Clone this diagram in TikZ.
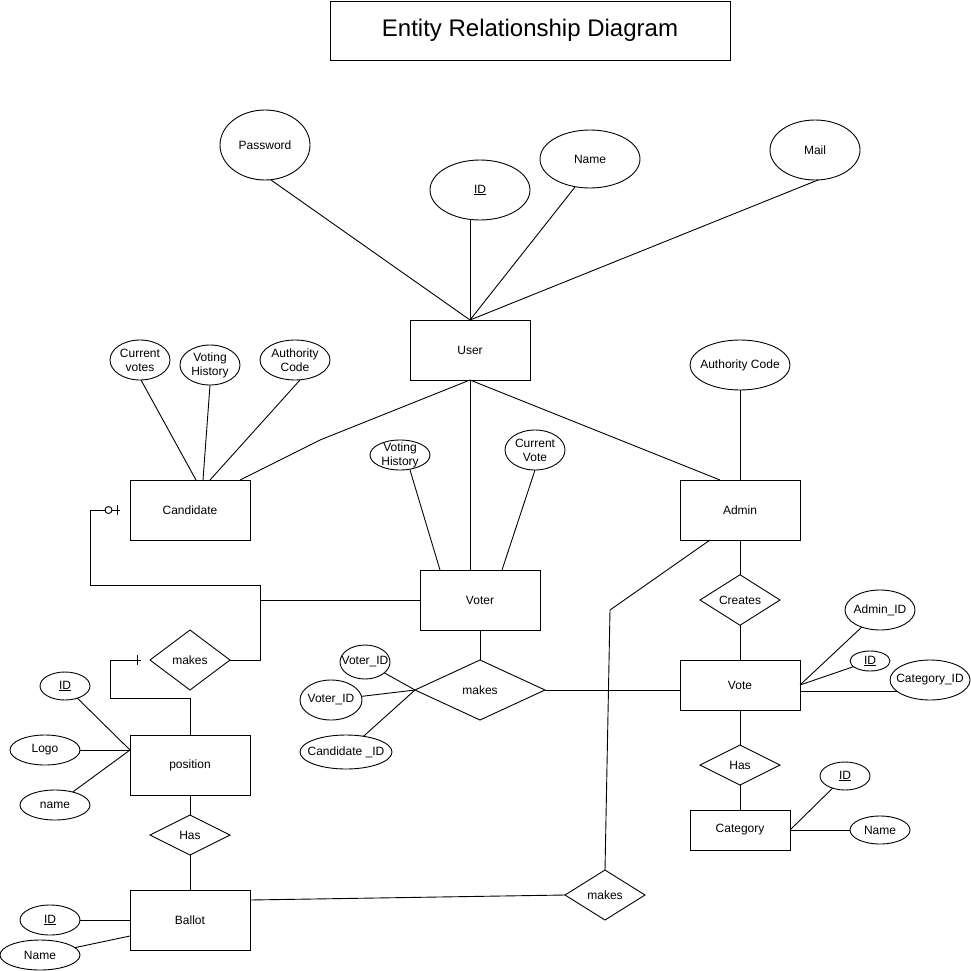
\documentclass[tikz,border=0pt]{standalone}
\usepackage{fontspec}
\setmainfont{Liberation Sans}
\usetikzlibrary{shapes.geometric}
\begin{document}
\begin{tikzpicture}[x=1pt,y=-1pt,
  every node/.style={font=\fontsize{12}{14}\selectfont, align=center, inner sep=0pt, outer sep=0pt},
  every path/.style={line width=0.9pt},
  ent/.style 2 args={draw, rectangle, minimum width=#1, minimum height=#2},
  attr/.style n args={3}{draw, ellipse, minimum width=#1, minimum height=#2, label={center:{#3}}},
  rel/.style 2 args={draw, diamond, minimum width=#1, minimum height=#2},
  titlebox/.style={draw, rectangle, minimum width=400pt, minimum height=59pt, font=\fontsize{24}{27}\selectfont}]
\useasboundingbox (0,0) rectangle (971,971);

% title
\node[titlebox] (title) at (530,30.5) {Entity Relationship Diagram};

% User and attributes
\node[attr={90pt}{70pt}{Password}] (pw) at (265,145) {};
\node[attr={100pt}{60pt}{\underline{ID}}] (uid) at (480,190) {};
\node[attr={100pt}{58pt}{Name}] (uname) at (590,159) {};
\node[attr={90pt}{60pt}{Mail}] (mail) at (815,150) {};
\node[ent={120pt}{60pt}] (user) at (470,350) {User};

\draw ([xshift=6pt]pw.south) -- (user.north);
\draw (uid.south -| user.north) -- (user.north);
\draw ([xshift=-15pt,yshift=1pt]uname.south) -- (user.north);
\draw ([xshift=3pt]mail.south) -- (user.north);

% Candidate
\node[attr={60pt}{40pt}{Current\\votes}] (cv) at (140,360) {};
\node[attr={60pt}{40pt}{Voting\\History}] (cvh) at (210,365) {};
\node[attr={70pt}{40pt}{Authority\\Code}] (cac) at (295,360) {};
\node[ent={120pt}{60pt}] (cand) at (190,510) {Candidate};

\draw ([xshift=1pt]cv.south) -- ([xshift=6pt]cand.north);
\draw (cvh.south) -- ([xshift=13pt]cand.north);
\draw ([xshift=5pt]cac.south) -- ([xshift=20pt]cand.north);
\coordinate (w1) at (320,440);
\draw (user.south) -- (w1) -- ([xshift=50pt]cand.north);

% Voter
\node[attr={60pt}{30pt}{Voting\\History}] (vvh) at (400,455) {};
\node[attr={60pt}{40pt}{Current\\Vote}] (vcv) at (535,450) {};
\node[ent={120pt}{60pt}] (voter) at (480,600) {Voter};

\draw (user.south) -- (user.south |- voter.north);
\draw ([xshift=10pt]vvh.south) -- ([xshift=-40pt]voter.north);
\draw (vcv.south) -- ([xshift=22pt]voter.north);

% makes (voter)
\node[rel={130pt}{60pt}] (mk1) at (480,690) {makes};
\node[attr={50pt}{34pt}{Voter\_ID}] (v1) at (365,662) {};
\node[attr={62pt}{40pt}{Voter\_ID}] (v2) at (331,700) {};
\node[attr={92pt}{34pt}{Candidate \_ID}] (v3) at (346,752) {};
\draw (voter.south) -- (mk1.north);
\draw (v1) -- (mk1.west);
\draw (v2) -- (mk1.west);
\draw (v3) -- (mk1.west);

% makes (left)
\node[rel={80pt}{60pt}] (mkL) at (190,660) {makes};
\coordinate (j1) at (260,585);
\coordinate (c1) at (90,585);
\coordinate (c2) at (90,510);
\draw (mkL.east) -- (mkL.east -| j1) -- (j1) -- (c1) -- (c2) -- ([xshift=-10pt]cand.west);
\draw[fill=white] ([xshift=-21.5pt]cand.west) circle (3.5);
\draw ([xshift=-13pt,yshift=5pt]cand.west) -- ([xshift=-13pt,yshift=-5pt]cand.west);
\draw (voter.west) -- (voter.west -| j1);

% position
\node[ent={120pt}{60pt}] (pos) at (190,765) {position};
\node[attr={50pt}{28pt}{\underline{ID}}] (pid) at (65,686) {};
\node[attr={70pt}{30pt}{Logo}] (plogo) at (45,750) {};
\node[attr={70pt}{30pt}{name}] (pname) at (55,805) {};
\draw (pid) -- ([yshift=15pt]pos.west);
\draw (plogo.east) -- ([yshift=15pt]pos.west);
\draw (pname) -- ([yshift=15pt]pos.west);
\coordinate (p1) at (110,698);
\coordinate (p2) at (110,660);
\draw (pos.north) -- (pos.north |- p1) -- (p1) -- (p2) -- ([xshift=-9pt]mkL.west);
\draw ([xshift=-13pt,yshift=5pt]mkL.west) -- ([xshift=-13pt,yshift=-5pt]mkL.west);

% Has (position-ballot)
\node[rel={80pt}{40pt}] (has1) at (190,835) {Has};
\node[ent={120pt}{60pt}] (ballot) at (190,920) {Ballot};
\draw (pos.south) -- (has1.north);
\draw (has1.south) -- (ballot.north);
\node[attr={60pt}{30pt}{\underline{ID}}] (bid) at (50,920) {};
\node[attr={80pt}{30pt}{Name}] (bname) at (40,955) {};
\draw (bid) -- (ballot.west);
\draw (bname) -- ([yshift=-16pt]ballot.west);

% makes (ballot-admin)
\node[rel={80pt}{50pt}] (mk2) at (605,895) {makes};
\draw ([yshift=20pt]ballot.east) -- (mk2.west);

% Admin
\node[attr={100pt}{50pt}{Authority Code}] (aac) at (740,365) {};
\node[ent={120pt}{60pt}] (admin) at (740,510) {Admin};
\draw (aac) -- (admin.north);
\draw (user.south) -- ([xshift=-20pt]admin.north);
\coordinate (w2) at (610,610);
\draw (mk2.north) -- (w2) -- ([xshift=-30pt]admin.south);

% Creates / Vote
\node[rel={80pt}{50pt}] (creates) at (740,600) {Creates};
\node[ent={120pt}{50pt}] (vote) at (740,685) {Vote};
\draw (admin.south) -- (creates.north);
\draw (creates.south) -- (vote.north);
\draw (mk1.east) -- (mk1.east -| vote.west);

\node[attr={70pt}{40pt}{Admin\_ID}] (aid) at (880,610) {};
\node[attr={40pt}{20pt}{\underline{ID}}] (vid) at (870,661) {};
\node[attr={80pt}{40pt}{Category\_ID}] (catid) at (930,680) {};
\draw (aid) -- (vote.east);
\draw (vid) -- (vote.east);
\draw (catid.200) -- (catid.200 -| vote.east);

% Has (vote-category)
\node[rel={80pt}{40pt}] (has2) at (740,765) {Has};
\node[ent={100pt}{40pt}] (cat) at (740,830) {Category};
\draw (vote.south) -- (has2.north);
\draw (has2.south) -- (cat.north);
\node[attr={50pt}{28pt}{\underline{ID}}] (cid) at (845,776) {};
\node[attr={60pt}{28pt}{Name}] (cname) at (880,830) {};
\draw (cid) -- (cat.east);
\draw (cname) -- (cat.east);
\end{tikzpicture}
\end{document}
